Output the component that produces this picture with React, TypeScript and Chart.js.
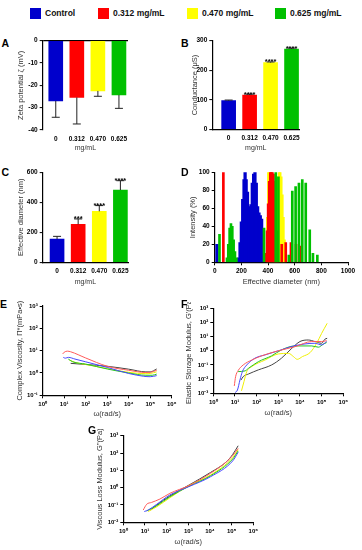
import React, { useEffect, useRef } from 'react';
import { Chart, registerables } from 'chart.js';

Chart.register(...registerables);

const FONT = '"Liberation Sans", Arial, Helvetica, sans-serif';

// ---------- legend / groups ----------
const groupLabels = ['Control', '0.312 mg/mL', '0.470 mg/mL', '0.625 mg/mL'];
const groupColors = ['#0000cc', '#ff0000', '#ffff00', '#00c000'];
const doseTicks = ['0', '0.312', '0.470', '0.625'];
const dosePos = [0, 1, 2, 3];

// ---------- A: zeta potential ----------
const zetaValues = [-27.0, -25.4, -22.5, -24.3];
const zetaErrors = [7.3, 11.9, 2.4, 6.0];
const zetaTicks = [0, -10, -20, -30, -40];

// ---------- B: conductance ----------
const conductValues = [97, 116, 226, 272];
const conductErrors = [2, 3, 2, 3];
const conductStars = ['', '****', '****', '****'];
const conductTicks = [0, 100, 200, 300];

// ---------- C: effective diameter ----------
const diameterValues = [155, 253, 340, 482];
const diameterErrors = [18, 36, 38, 62];
const diameterStars = ['', '***', '****', '****'];
const diameterTicks = [0, 200, 400, 600];

// ---------- D: size distribution ----------
const dlsXTicks = [0, 200, 400, 600, 800, 1000];
const dlsXLabels = ['0', '200', '400', '600', '800', '1000'];
const dlsYTicks = [0, 20, 40, 60, 80, 100];
const dlsBlueNm = [17, 180, 190, 200, 210, 220, 228, 236, 246, 256, 264, 272, 282, 292, 302, 312, 322, 332, 342, 352, 362];
const dlsBlueInt = [20, 5, 22, 45, 70, 92, 100, 92, 78, 62, 55, 64, 88, 98, 100, 88, 62, 55, 52, 48, 20];
const dlsRedNm = [65, 385, 393, 401, 409, 417, 425, 433, 441, 449, 457, 465, 473, 503, 533, 572, 610, 644];
const dlsRedInt = [100, 10, 35, 65, 90, 100, 100, 100, 98, 90, 60, 35, 15, 20, 22, 22, 20, 18];
const dlsYellowNm = [395, 403, 411, 419, 427, 435, 443, 451, 459, 467, 475, 483, 491, 499, 507, 515, 523, 531];
const dlsYellowInt = [50, 100, 100, 100, 98, 95, 90, 88, 85, 90, 95, 100, 100, 95, 75, 50, 25, 12];
const dlsGreenNm = [36, 92, 102, 112, 122, 132, 142, 152, 162, 370, 458, 478, 556, 582, 607, 632, 657, 683, 713, 737, 770];
const dlsGreenInt = [31, 5, 20, 38, 43, 40, 25, 12, 5, 38, 100, 95, 8, 79, 84, 88, 92, 88, 36, 10, 8];

// ---------- rheology axes ----------
const decadeX = [1, 10, 100, 1000, 1e4, 1e5, 1e6];
const decadeXLabels = ['10⁰', '10¹', '10²', '10³', '10⁴', '10⁵', '10⁶'];
const eYTicks = [0.1, 1, 10, 100, 1000];
const eYLabels = ['10⁻¹', '10⁰', '10¹', '10²', '10³'];
const fYTicks = [1e-3, 1e-2, 0.1, 1, 10, 100, 1000];
const fYLabels = ['10⁻³', '10⁻²', '10⁻¹', '10⁰', '10¹', '10²', '10³'];
const gYTicks = [1e-2, 0.1, 1, 10, 100, 1000];
const gYLabels = ['10⁻²', '10⁻¹', '10⁰', '10¹', '10²', '10³'];

// ---------- E: complex viscosity ----------
const eRedW = [8.5, 10, 14, 20, 100, 1000, 1e4, 6.3e4, 1e5, 2e5];
const eRedV = [7.1, 8.5, 9.5, 8.9, 4.7, 2.0, 1.32, 1.05, 1.07, 1.32];
const eBlueW = [9.1, 11.2, 15.8, 31.6, 100, 1000, 1e4, 5e4, 1e5, 2e5];
const eBlueV = [5.0, 4.6, 5.0, 4.2, 3.16, 1.78, 0.95, 0.71, 0.68, 0.76];
const eGreenW = [15.5, 25, 100, 1000, 1e4, 6.3e4, 1.26e5, 2e5];
const eGreenV = [4.2, 3.16, 2.5, 1.51, 1.0, 0.79, 0.79, 0.89];
const eYellowW = [17.4, 31.6, 100, 1000, 1e4, 6.3e4, 1e5, 2e5];
const eYellowV = [3.8, 3.0, 2.4, 1.58, 1.07, 0.93, 0.95, 1.12];
const eBlackW = [20, 100, 1000, 1e4, 6.3e4, 1e5, 2e5];
const eBlackV = [2.7, 2.4, 2.0, 1.48, 1.12, 1.12, 1.51];

// ---------- F: storage modulus ----------
const fRedW = [9.3, 10.7, 14, 24, 59, 170, 1000, 5900, 3.5e4, 1e5, 1.7e5];
const fRedV = [3.3e-3, 1.5e-2, 4e-2, 0.1, 0.22, 0.44, 1, 1.95, 4.5, 4.5, 5.2];
const fBlueW = [10, 13, 17, 22, 35, 83, 240, 1000, 5900, 4.9e4, 1e5, 1.7e5];
const fBlueV = [1.1e-3, 1.7e-3, 8.7e-3, 3.4e-2, 0.1, 0.3, 0.51, 1, 2.3, 3.4, 2.6, 4.5];
const fGreenW = [14, 29, 42, 120, 490, 1400, 5900, 3.5e4, 7.1e4, 1.2e5, 1.7e5];
const fGreenV = [3.4e-2, 3.8e-2, 5.8e-2, 0.17, 0.44, 1.15, 2.2, 2.2, 1.8, 3.0, 3.8];
const fYellowW = [20, 26, 35, 59, 240, 1000, 3000, 5000, 7500, 1.3e4, 2.9e4, 5.9e4, 1e5, 1.8e5];
const fYellowV = [1.5e-3, 6.6e-3, 3.4e-2, 7.6e-2, 0.22, 0.6, 0.66, 0.39, 0.25, 0.39, 0.74, 3.4, 17, 87];
const fBlackW = [19, 24, 42, 120, 490, 1400, 4200, 1e4, 2.4e4, 4.9e4, 1e5, 1.4e5, 1.8e5];
const fBlackV = [8.7e-3, 1.5e-2, 2.3e-2, 4.5e-2, 0.1, 0.3, 1.5, 4.5, 5.8, 4.5, 3.4, 6.5, 7.6];

// ---------- G: loss modulus ----------
const gRedW = [8.3, 12, 20, 49, 141, 1070, 1.07e4, 5.9e4, 1.12e5, 2e5];
const gRedV = [5.1e-2, 0.11, 0.14, 0.22, 0.47, 1.32, 6.8, 32, 71, 186];
const gBlueW = [9.3, 14, 35, 141, 1070, 1.07e4, 1.12e5, 2e5];
const gBlueV = [4.2e-2, 5.1e-2, 0.11, 0.38, 1.15, 4.3, 35, 110];
const gGreenW = [12, 35, 141, 1070, 1.07e4, 1.12e5, 2e5];
const gGreenV = [4.5e-2, 9.1e-2, 0.3, 1.2, 4.9, 45, 132];
const gYellowW = [14, 35, 141, 1070, 1.07e4, 1.12e5, 2e5];
const gYellowV = [4.2e-2, 7.9e-2, 0.26, 1.32, 5.4, 54, 155];
const gBlackW = [18, 35, 141, 1070, 1.07e4, 5.9e4, 1.12e5, 2e5];
const gBlackV = [5.1e-2, 0.1, 0.33, 1.41, 7.6, 32, 83, 263];

const lineColors = { red: '#ff5a5a', blue: '#4848ff', green: '#22c422', yellow: '#f0f000', black: '#444444' };

// ---------- layout ----------
type Box = { cl: number; ct: number; cw: number; ch: number; L: number; T: number; R: number; B: number };

const boxA: Box = { cl: 16, ct: 34, cw: 118, ch: 118, L: 42.7, T: 40.7, R: 128, B: 130 };
const boxB: Box = { cl: 190, ct: 34, cw: 116, ch: 118, L: 212.3, T: 40.7, R: 299.3, B: 129.3 };
const boxC: Box = { cl: 16, ct: 166, cw: 118, ch: 120, L: 42.7, T: 172.3, R: 128, B: 262.3 };
const boxD: Box = { cl: 188, ct: 166, cw: 170, ch: 120, L: 214.7, T: 172.3, R: 348, B: 262.3 };
const boxE: Box = { cl: 15, ct: 300, cw: 165, ch: 118, L: 42.7, T: 306, R: 171.7, B: 395.3 };
const boxF: Box = { cl: 184, ct: 302, cw: 168, ch: 115, L: 213.3, T: 308.3, R: 343.3, B: 393.3 };
const boxG: Box = { cl: 95, ct: 429, cw: 167, ch: 117, L: 123.3, T: 435.7, R: 253.3, B: 522.3 };

const tickFont = { family: FONT, size: 6.5, weight: 'bold' as const };
const logTickFont = { family: FONT, size: 6, weight: 'bold' as const };
const titleFont = { family: FONT, size: 7.5 };
const smallTitleFont = { family: FONT, size: 7 };

function padding(box: Box) {
  return { top: box.T - box.ct, right: box.cl + box.cw - box.R, left: 0, bottom: 0 };
}

function yAxis(box: Box, title: string, extra: any) {
  return {
    afterFit: (s: any) => { s.width = box.L - box.cl; },
    border: { display: true, color: '#000', width: 1.2 },
    grid: { display: true, drawOnChartArea: false, drawTicks: true, tickLength: 3, tickColor: '#000', tickWidth: 1 },
    title: { display: true, text: title, font: titleFont, color: '#333', padding: 0 },
    ...extra,
  };
}

function xAxis(box: Box, title: string, tfont: any, extra: any) {
  return {
    afterFit: (s: any) => { s.height = box.ct + box.ch - box.B; },
    title: { display: true, text: title, font: tfont, color: '#333', padding: 0 },
    ...extra,
  };
}

const errorBarPlugin = {
  id: 'errorBars',
  afterDatasetsDraw(chart: any, _args: any, opts: any) {
    if (!opts || !opts.errors) return;
    const ctx = chart.ctx;
    const meta = chart.getDatasetMeta(0);
    const yScale = chart.scales.y;
    const data = chart.data.datasets[0].data;
    ctx.save();
    ctx.strokeStyle = '#222';
    ctx.lineWidth = 1;
    meta.data.forEach((bar: any, i: number) => {
      const v = data[i].y;
      const e = opts.errors[i];
      const end = v < 0 ? v - e : v + e;
      const yb = yScale.getPixelForValue(v);
      const ye = yScale.getPixelForValue(end);
      const x = bar.x;
      ctx.beginPath();
      ctx.moveTo(x, yb);
      ctx.lineTo(x, ye);
      ctx.moveTo(x - 4, ye);
      ctx.lineTo(x + 4, ye);
      ctx.stroke();
      const s = opts.stars ? opts.stars[i] : '';
      if (s) {
        ctx.fillStyle = '#000';
        ctx.font = `bold 7.5px ${FONT}`;
        ctx.textAlign = 'center';
        ctx.textBaseline = 'alphabetic';
        ctx.fillText(s, x, ye + 2.5);
      }
    });
    ctx.restore();
  },
};

function barConfig(box: Box, values: number[], errors: number[], stars: string[] | null, yTicks: number[], yTitle: string, zeroLine: boolean, xRange: [number, number]) {
  const minY = Math.min(...yTicks);
  const maxY = Math.max(...yTicks);
  return {
    type: 'bar',
    data: {
      datasets: [
        {
          data: dosePos.map((p, i) => ({ x: p, y: values[i] })),
          backgroundColor: groupColors,
          borderWidth: 0,
          barThickness: 14,
        },
      ],
    },
    plugins: [errorBarPlugin],
    options: {
      responsive: false,
      animation: false,
      layout: { padding: padding(box) },
      plugins: {
        legend: { display: false },
        tooltip: { enabled: false },
        errorBars: { errors, stars },
      },
      scales: {
        x: xAxis(box, 'mg/mL', smallTitleFont, {
          type: 'linear',
          offset: false,
          min: xRange[0],
          max: xRange[1],
          afterBuildTicks: (s: any) => { s.ticks = dosePos.map((v) => ({ value: v })); },
          ticks: { font: tickFont, color: '#000', padding: 1, autoSkip: false, maxRotation: 0, callback: (_v: any, i: number) => doseTicks[i] },
          border: { display: !zeroLine, color: '#000', width: 1.2 },
          grid: { display: false, offset: false, drawTicks: true, tickLength: 4 },
        }),
        y: yAxis(box, yTitle, {
          type: 'linear',
          min: minY,
          max: maxY,
          afterBuildTicks: (s: any) => { s.ticks = yTicks.map((v) => ({ value: v })); },
          ticks: { font: tickFont, color: '#000', padding: 2, autoSkip: false },
          grid: {
            display: true,
            drawOnChartArea: zeroLine,
            drawTicks: true,
            tickLength: 3,
            tickColor: '#000',
            tickWidth: 1,
            lineWidth: 1.2,
            color: (c: any) => (c.tick && c.tick.value === 0 ? '#000' : 'rgba(0,0,0,0)'),
          },
        }),
      },
    },
  };
}

function dlsConfig(box: Box) {
  const ds = (nm: number[], it: number[], color: string, thick: number) => ({
    data: nm.map((x, i) => ({ x, y: it[i] })),
    backgroundColor: color,
    borderWidth: 0,
    barThickness: thick,
    grouped: false,
  });
  // Chart.js paints dataset 0 last (on top)
  return {
    type: 'bar',
    data: {
      datasets: [
        ds(dlsGreenNm, dlsGreenInt, groupColors[3], 2),
        ds(dlsBlueNm, dlsBlueInt, groupColors[0], 2.6),
        ds(dlsRedNm, dlsRedInt, groupColors[1], 2),
        ds(dlsYellowNm, dlsYellowInt, groupColors[2], 2),
      ],
    },
    options: {
      responsive: false,
      animation: false,
      layout: { padding: padding(box) },
      plugins: { legend: { display: false }, tooltip: { enabled: false } },
      scales: {
        x: xAxis(box, 'Effective diameter (nm)', titleFont, {
          type: 'linear',
          offset: false,
          min: 0,
          max: 1000,
          afterBuildTicks: (s: any) => { s.ticks = dlsXTicks.map((v) => ({ value: v })); },
          ticks: { font: tickFont, color: '#000', padding: 2, autoSkip: false, maxRotation: 0, callback: (_v: any, i: number) => dlsXLabels[i] },
          border: { display: true, color: '#000', width: 1.2 },
          grid: { display: true, offset: false, drawOnChartArea: false, drawTicks: true, tickLength: 3, tickColor: '#000', tickWidth: 1 },
        }),
        y: yAxis(box, 'Intensity (%)', {
          type: 'linear',
          min: 0,
          max: 100,
          afterBuildTicks: (s: any) => { s.ticks = dlsYTicks.map((v) => ({ value: v })); },
          ticks: { font: tickFont, color: '#000', padding: 2, autoSkip: false },
        }),
      },
    },
  };
}

type Series = { w: number[]; v: number[]; color: string };

function logConfig(box: Box, series: Series[], yTicks: number[], yLabels: string[], yTitle: string) {
  return {
    type: 'line',
    data: {
      datasets: series.map((s) => ({
        data: s.w.map((x, i) => ({ x, y: s.v[i] })),
        borderColor: s.color,
        borderWidth: 1,
        pointRadius: 0,
        fill: false,
        cubicInterpolationMode: 'monotone',
      })),
    },
    options: {
      responsive: false,
      animation: false,
      layout: { padding: padding(box) },
      plugins: { legend: { display: false }, tooltip: { enabled: false } },
      scales: {
        x: xAxis(box, 'ω(rad/s)', titleFont, {
          type: 'logarithmic',
          min: 1,
          max: 1e6,
          afterBuildTicks: (s: any) => { s.ticks = decadeX.map((v) => ({ value: v })); },
          ticks: { font: logTickFont, color: '#000', padding: 2, autoSkip: false, maxRotation: 0, callback: (_v: any, i: number) => decadeXLabels[i] },
          border: { display: true, color: '#000', width: 1.2 },
          grid: { display: true, drawOnChartArea: false, drawTicks: true, tickLength: 3, tickColor: '#000', tickWidth: 1 },
        }),
        y: yAxis(box, yTitle, {
          type: 'logarithmic',
          min: yTicks[0],
          max: yTicks[yTicks.length - 1],
          afterBuildTicks: (s: any) => { s.ticks = yTicks.map((v) => ({ value: v })); },
          ticks: { font: logTickFont, color: '#000', padding: 2, autoSkip: false, callback: (_v: any, i: number) => yLabels[i] },
        }),
      },
    },
  };
}

const seriesE: Series[] = [
  { w: eRedW, v: eRedV, color: lineColors.red },
  { w: eBlueW, v: eBlueV, color: lineColors.blue },
  { w: eGreenW, v: eGreenV, color: lineColors.green },
  { w: eYellowW, v: eYellowV, color: lineColors.yellow },
  { w: eBlackW, v: eBlackV, color: lineColors.black },
];
const seriesF: Series[] = [
  { w: fRedW, v: fRedV, color: lineColors.red },
  { w: fBlueW, v: fBlueV, color: lineColors.blue },
  { w: fGreenW, v: fGreenV, color: lineColors.green },
  { w: fYellowW, v: fYellowV, color: lineColors.yellow },
  { w: fBlackW, v: fBlackV, color: lineColors.black },
];
const seriesG: Series[] = [
  { w: gRedW, v: gRedV, color: lineColors.red },
  { w: gBlueW, v: gBlueV, color: lineColors.blue },
  { w: gGreenW, v: gGreenV, color: lineColors.green },
  { w: gYellowW, v: gYellowV, color: lineColors.yellow },
  { w: gBlackW, v: gBlackV, color: lineColors.black },
];

function ChartBox({ box, config }: { box: Box; config: () => any }) {
  const ref = useRef<HTMLCanvasElement>(null);
  useEffect(() => {
    const chart = new Chart(ref.current as HTMLCanvasElement, config());
    return () => chart.destroy();
  }, []);
  return (
    <canvas
      ref={ref}
      width={box.cw}
      height={box.ch}
      style={{ position: 'absolute', left: box.cl, top: box.ct, width: box.cw, height: box.ch }}
    />
  );
}

const legendX = [30, 98, 187, 275];
const panelLetters = [
  { t: 'A', x: 1.5, y: 38 },
  { t: 'B', x: 181, y: 38 },
  { t: 'C', x: 1.5, y: 167 },
  { t: 'D', x: 181, y: 167 },
  { t: 'E', x: 0, y: 299 },
  { t: 'F', x: 181, y: 299 },
  { t: 'G', x: 88, y: 424.5 },
];

export default function App() {
  return (
    <div style={{ position: 'absolute', left: 0, top: 0, width: 362, height: 550, background: '#fff', overflow: 'hidden' }}>
      {groupLabels.map((g, i) => (
        <React.Fragment key={g}>
          <div style={{ position: 'absolute', left: legendX[i], top: 7.5, width: 11, height: 11, background: groupColors[i] }} />
          <div style={{ position: 'absolute', left: legendX[i] + 15, top: 7, font: `bold 8.5px ${FONT}`, lineHeight: '12px', color: '#111', whiteSpace: 'nowrap' }}>{g}</div>
        </React.Fragment>
      ))}
      <ChartBox box={boxA} config={() => barConfig(boxA, zetaValues, zetaErrors, null, zetaTicks, 'Zeta potential ζ (mV)', true, [-0.62, 3.43])} />
      <ChartBox box={boxB} config={() => barConfig(boxB, conductValues, conductErrors, conductStars, conductTicks, 'Conductance (μS)', false, [-0.78, 3.37])} />
      <ChartBox box={boxC} config={() => barConfig(boxC, diameterValues, diameterErrors, diameterStars, diameterTicks, 'Effective diameter (nm)', false, [-0.68, 3.36])} />
      <ChartBox box={boxD} config={() => dlsConfig(boxD)} />
      <ChartBox box={boxE} config={() => logConfig(boxE, seriesE, eYTicks, eYLabels, 'Complex Viscosity, Π*(mPa•s)')} />
      <ChartBox box={boxF} config={() => logConfig(boxF, seriesF, fYTicks, fYLabels, "Elastic Storage Modulus, G'(Pa)")} />
      <ChartBox box={boxG} config={() => logConfig(boxG, seriesG, gYTicks, gYLabels, "Viscous Loss Modulus, G''(Pa)")} />
      {panelLetters.map((p) => (
        <div key={p.t} style={{ position: 'absolute', left: p.x, top: p.y, font: `bold 10.5px ${FONT}`, lineHeight: '10.5px', color: '#000' }}>{p.t}</div>
      ))}
    </div>
  );
}
